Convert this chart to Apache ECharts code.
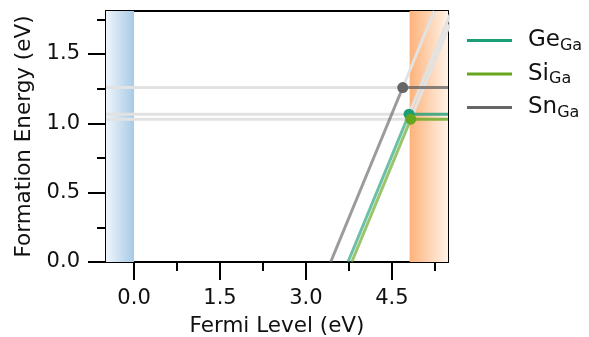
<!DOCTYPE html>
<html>
<head>
<meta charset="utf-8">
<script src="https://cdn.jsdelivr.net/npm/echarts@6/dist/echarts.min.js"></script>
<style>
  html, body { margin: 0; padding: 0; background: #fff; }
  #chart { width: 589px; height: 337px; }
</style>
</head>
<body>
<div id="chart"></div>
<script>
// defects (dopant on Ga site)
const defects = ["Ge", "Si", "Sn"]
const defectColors = ["#1b9e77", "#66a61e", "#666666"]
// transition level (eV) and formation energy at it (eV)
const transitionLevel = [4.80, 4.83, 4.69]
const formationEnergy = [1.066, 1.03, 1.258]
// slope of the charged branch (charge state)
const chargeSlope = [1, 1, 1]

// axis extents and ticks
const xRange = [-0.49, 5.48]
const yRange = [0, 1.81]
const xTicks = [0, 1.5, 3.0, 4.5]
const xMinorTicks = [0.75, 2.25, 3.75, 5.25]
const yTicks = [0, 0.5, 1.0, 1.5]
const yMinorTicks = [0.25, 0.75, 1.25, 1.75]
// band edges: VBM at 0, CBM
const vbm = 0
const cbm = 4.81

const FONT = "DejaVu Sans"
const TEXT = "#111"
const chart = echarts.init(document.getElementById("chart"))

const series = []

// band regions
series.push({
  type: "line",
  data: [],
  z: 1,
  silent: true,
  markArea: {
    silent: true,
    data: [
      [
        {
          xAxis: xRange[0],
          yAxis: yRange[0],
          itemStyle: {
            color: new echarts.graphic.LinearGradient(0, 0, 1, 0, [
              { offset: 0, color: "#eef5fb" },
              { offset: 1, color: "#a8cae5" },
            ]),
          },
        },
        { xAxis: vbm, yAxis: yRange[1] },
      ],
      [
        {
          xAxis: cbm,
          yAxis: yRange[0],
          itemStyle: {
            color: new echarts.graphic.LinearGradient(0, 0, 1, 0, [
              { offset: 0, color: "#fdb27a" },
              { offset: 1, color: "#fff3e8" },
            ]),
          },
        },
        { xAxis: xRange[1], yAxis: yRange[1] },
      ],
    ],
  },
})

const lineBase = { type: "line", symbol: "none", silent: true, xAxisIndex: 0, yAxisIndex: 0 }

defects.forEach((d, i) => {
  const xt = transitionLevel[i]
  const e0 = formationEnergy[i]
  const k = chargeSlope[i]
  // faded: neutral level continued to the left
  series.push({
    ...lineBase,
    z: 2,
    data: [[xRange[0], e0], [xt, e0]],
    lineStyle: { color: "#e2e2e2", width: 3 },
  })
  // faded: charged branch continued upward
  series.push({
    ...lineBase,
    z: 2,
    data: [[xt, e0], [xt + (yRange[1] - e0) / k, yRange[1]]],
    lineStyle: { color: "#e2e2e2", width: 3 },
  })
})

defects.forEach((d, i) => {
  const xt = transitionLevel[i]
  const e0 = formationEnergy[i]
  const k = chargeSlope[i]
  // charged branch
  series.push({
    ...lineBase,
    z: 3,
    data: [[xt - e0 / k, 0], [xt, e0]],
    lineStyle: { color: defectColors[i], width: 3, opacity: 0.65 },
  })
  // stable branch (neutral)
  series.push({
    ...lineBase,
    name: d,
    z: 3,
    data: [[xt, e0], [xRange[1], e0]],
    itemStyle: { color: defectColors[i] },
    lineStyle: { color: defectColors[i], width: 3, opacity: 0.8 },
  })
  // transition point
  series.push({
    type: "scatter",
    silent: true,
    z: 4,
    data: [[xt, e0]],
    symbolSize: 11,
    itemStyle: { color: defectColors[i], opacity: 1 },
  })
})

const axisLine = { show: true, onZero: false, lineStyle: { color: "#000", width: 2 } }
const noLine = { show: false, onZero: false }
const tickLabel = { fontFamily: FONT, fontSize: 21, color: TEXT, margin: 26 }

const option = {
  animation: false,
  grid: { left: 106, right: 141, top: 11, bottom: 75, containLabel: false, outerBoundsMode: "none" },
  legend: {
    orient: "vertical",
    left: 467,
    top: 29,
    padding: 0,
    itemGap: 9,
    itemWidth: 45,
    itemHeight: 3,
    icon: "rect",
    data: defects.map((d, i) => ({ name: d, itemStyle: { color: defectColors[i] } })),
    formatter: (name) => `{main|${name}}{sub|Ga}`,
    textStyle: {
      fontFamily: FONT,
      fontSize: 20,
      color: TEXT,
      padding: [0, 0, 0, 11],
      rich: {
        main: { fontFamily: FONT, fontSize: 23, color: TEXT },
        sub: { fontFamily: FONT, fontSize: 16, color: TEXT, padding: [10, 0, 0, 0] },
      },
    },
  },
  xAxis: [
    {
      type: "value",
      min: xRange[0],
      max: xRange[1],
      name: "Fermi Level (eV)",
      nameLocation: "middle",
      nameGap: 53,
      nameTextStyle: { fontFamily: FONT, fontSize: 21.5, color: TEXT },
      axisLine,
      splitLine: { show: false },
      axisTick: { show: true, length: 18, customValues: xTicks, lineStyle: { color: "#000", width: 2 } },
      axisLabel: { ...tickLabel, customValues: xTicks, formatter: (v) => v.toFixed(1) },
    },
    {
      type: "value",
      min: xRange[0],
      max: xRange[1],
      position: "bottom",
      axisLine: noLine,
      splitLine: { show: false },
      axisTick: { show: true, length: 9, customValues: xMinorTicks, lineStyle: { color: "#000", width: 2 } },
      axisLabel: { show: false },
    },
    {
      type: "value",
      min: xRange[0],
      max: xRange[1],
      position: "top",
      axisLine,
      splitLine: { show: false },
      axisTick: { show: false },
      axisLabel: { show: false },
    },
  ],
  yAxis: [
    {
      type: "value",
      min: yRange[0],
      max: yRange[1],
      name: "Formation Energy (eV)",
      nameLocation: "middle",
      nameGap: 70,
      nameTextStyle: { fontFamily: FONT, fontSize: 21.5, color: TEXT },
      axisLine,
      splitLine: { show: false },
      axisTick: { show: true, length: 18, customValues: yTicks, lineStyle: { color: "#000", width: 2 } },
      axisLabel: { ...tickLabel, customValues: yTicks, formatter: (v) => v.toFixed(1) },
    },
    {
      type: "value",
      min: yRange[0],
      max: yRange[1],
      position: "left",
      axisLine: noLine,
      splitLine: { show: false },
      axisTick: { show: true, length: 9, customValues: yMinorTicks, lineStyle: { color: "#000", width: 2 } },
      axisLabel: { show: false },
    },
    {
      type: "value",
      min: yRange[0],
      max: yRange[1],
      position: "right",
      axisLine,
      splitLine: { show: false },
      axisTick: { show: false },
      axisLabel: { show: false },
    },
  ],
  series,
}

chart.setOption(option)
</script>
</body>
</html>
